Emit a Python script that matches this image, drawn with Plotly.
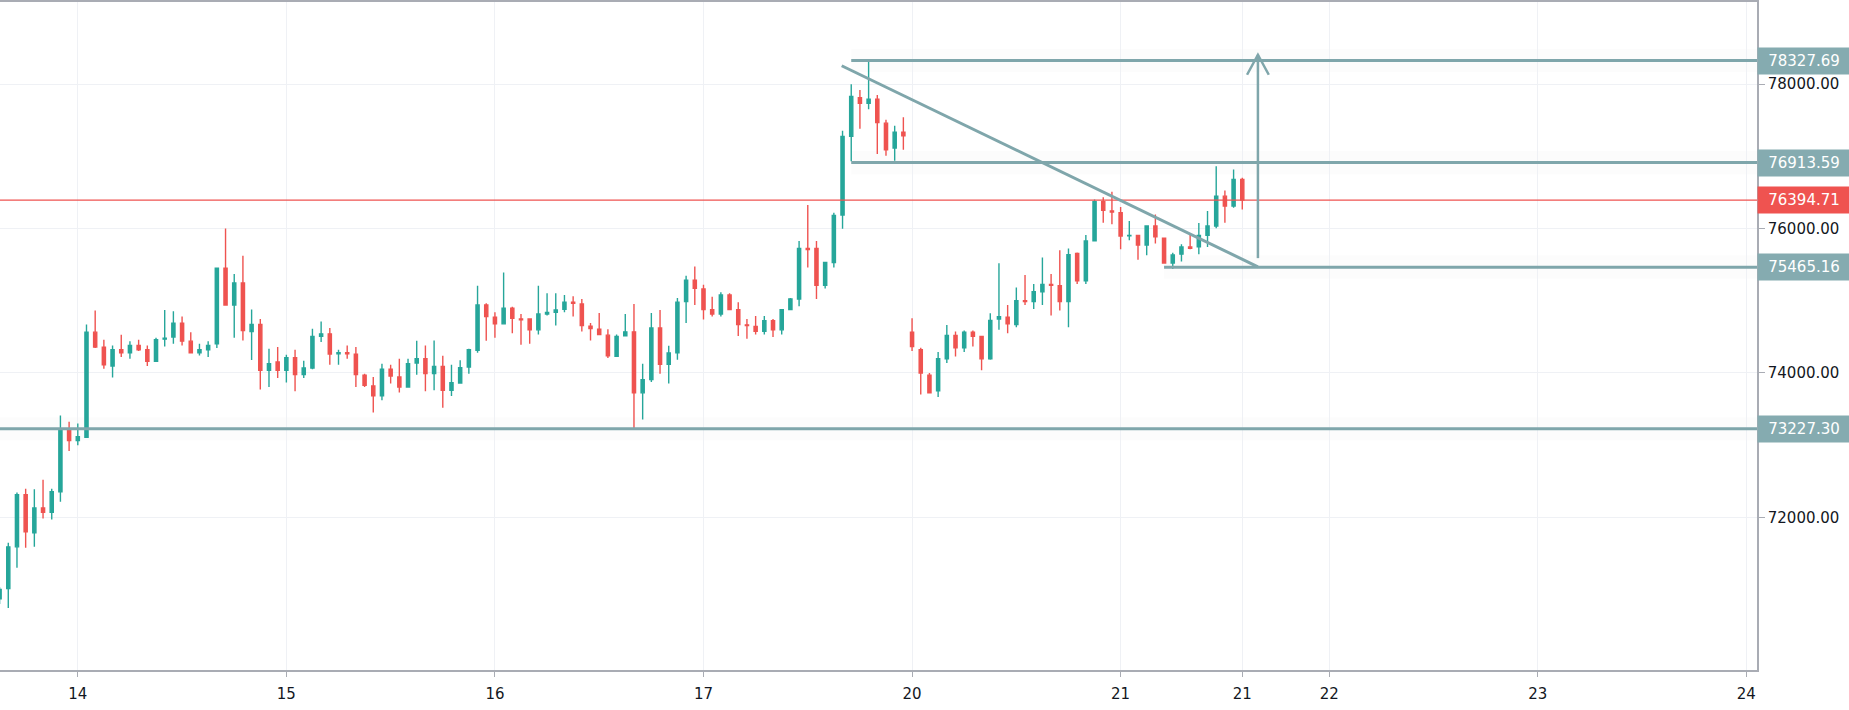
import plotly.graph_objects as go

# ---------------- data (hourly bars; bar 0 = day "14" 00:00) ----------------
bars = list(range(-9, 135))

opens = [70870, 71012, 71591, 72312, 71784, 72129, 72069, 72354, 73209,
         73062, 73108, 74565, 74358, 74096, 74321, 74280, 74381, 74321, 74160,
         74468, 74496, 74689, 74440, 74280, 74321, 74404, 75452, 74941, 75245,
         74574, 74670, 74036, 74151, 74036, 74211, 73976, 74068, 74509, 74541,
         74266, 74280, 74261, 73967, 73820, 73682, 74050, 73944, 73806, 74137,
         74197, 73990, 74091, 73760, 73861, 74082, 74312, 74941, 74771, 74680,
         74895, 74748, 74748, 74597, 74817, 74840, 74882, 74978, 74955, 74648,
         74606, 74523, 74229, 74514, 74569, 73724, 73907, 74624, 74119, 74280,
         74988, 75286, 75162, 74877, 74817, 75079, 74877, 74666, 74643, 74578,
         74725, 74597, 74877, 75024, 75723, 75723, 75213, 75530, 76187, 77276,
         77814, 77736, 77791, 77460, 77115, 77336, 74564, 74321, 73967, 73751,
         74197, 74518, 74348, 74564, 74505, 74197, 74748, 74772, 74670, 75001,
         74987, 75125, 75227, 75208, 74987, 75654, 75277, 75829, 76371, 76242,
         76219, 75900, 75906, 75773, 76035, 75865, 75521, 75645, 75746, 75746,
         75906, 76035, 76449, 76311, 76679]

highs = [71030, 71646, 72345, 72395, 72390, 72519, 72395, 73411, 73324,
         73301, 74670, 74863, 74459, 74381, 74528, 74440, 74459, 74381, 74487,
         74872, 74854, 74781, 74565, 74404, 74440, 75461, 75999, 75369, 75622,
         74877, 74748, 74335, 74358, 74252, 74321, 74169, 74611, 74712, 74624,
         74321, 74381, 74358, 73990, 73944, 74128, 74114, 74197, 74197, 74445,
         74381, 74450, 74238, 74114, 74174, 74335, 75208, 74964, 74840, 75392,
         74918, 74817, 74748, 75208, 75102, 75102, 75079, 75061, 75024, 74693,
         74831, 74606, 74533, 74817, 74955, 74128, 74831, 74873, 74376, 75038,
         75346, 75475, 75222, 75056, 75116, 75102, 74978, 74748, 74790, 74790,
         74748, 74877, 75038, 75829, 76325, 75829, 75539, 76219, 77354, 77998,
         77920, 78320, 77851, 77506, 77423, 77543, 74757, 74348, 74000, 74289,
         74665, 74574, 74588, 74588, 74505, 74826, 75520, 74941, 75185, 75355,
         75231, 75599, 75369, 75700, 75723, 75668, 75911, 76403, 76435, 76509,
         76297, 76104, 75906, 76035, 76196, 75865, 75663, 75782, 75920, 76077,
         76242, 76863, 76527, 76817, 76702]

lows = [70800, 70745, 71301, 71577, 71591, 71982, 71968, 72216, 72919,
        72997, 73100, 74344, 74059, 73935, 74220, 74197, 74302, 74096, 74151,
        74367, 74404, 74381, 74280, 74243, 74220, 74344, 74941, 74486, 74450,
        74179, 73770, 73806, 73930, 73866, 73747, 73930, 74050, 74427, 74114,
        74114, 74197, 73806, 73806, 73452, 73622, 73852, 73728, 73806, 73976,
        73747, 73760, 73517, 73682, 73852, 73990, 74280, 74445, 74487, 74680,
        74551, 74390, 74404, 74533, 74794, 74657, 74840, 74781, 74574, 74450,
        74533, 74206, 74220, 74514, 73232, 73356, 73875, 73990, 73852, 74183,
        74693, 74942, 74739, 74781, 74781, 74877, 74510, 74473, 74532, 74532,
        74496, 74532, 74877, 74923, 75461, 75024, 75171, 75461, 75998, 76931,
        77382, 77653, 77032, 77009, 76940, 77092, 74302, 73700, 73723, 73668,
        74137, 74229, 74289, 74367, 74036, 74183, 74597, 74551, 74634, 74941,
        74886, 74941, 74794, 74863, 74634, 75231, 75231, 75829, 76081, 76058,
        75714, 75838, 75566, 75631, 75792, 75521, 75440, 75543, 75714, 75645,
        75746, 76003, 76081, 76288, 76265]

closes = [71000, 71591, 72312, 71798, 72129, 72069, 72354, 73209, 73062,
          73117, 74565, 74358, 74114, 74321, 74280, 74381, 74321, 74160, 74459,
          74482, 74689, 74440, 74280, 74321, 74381, 75452, 74941, 75245, 74588,
          74670, 74036, 74128, 74036, 74211, 73976, 74068, 74505, 74541, 74261,
          74280, 74266, 73976, 73829, 73682, 74050, 73958, 73806, 74128, 74197,
          73990, 74091, 73760, 73866, 74073, 74321, 74941, 74781, 74680, 74895,
          74758, 74735, 74597, 74817, 74836, 74873, 74978, 74964, 74657, 74615,
          74533, 74238, 74505, 74569, 73724, 73907, 74624, 74119, 74275, 74978,
          75286, 75171, 74877, 74817, 75079, 74877, 74670, 74657, 74578, 74725,
          74597, 74877, 75024, 75723, 75709, 75213, 75530, 76182, 77276, 77828,
          77736, 77791, 77469, 77092, 77336, 77285, 74367, 74000, 73723, 74197,
          74518, 74348, 74564, 74509, 74197, 74726, 74780, 74680, 75001, 74987,
          75125, 75227, 75213, 74987, 75636, 75277, 75829, 76371, 76251, 76228,
          75897, 75906, 75773, 76035, 75884, 75521, 75635, 75746, 75727, 75906,
          76035, 76449, 76311, 76679, 76394.71]

tick_bars = [0, 24, 48, 72, 96, 120, 134, 144, 168, 192]
tick_text = ["14", "15", "16", "17", "20", "21", "21", "22", "23", "24"]
price_ticks = [72000, 74000, 76000, 78000]

# drawings: horizontal levels (price, first bar; None = full width)
level_prices = [78327.69, 76913.59, 75465.16, 73227.30]
level_start = [89, 89, 125, None]
last_price = 76394.71
trend_bars = [87.9, 135.8]
trend_prices = [78255, 75470]
arrow_bar = 135.8
arrow_prices = [75590, 78407]
arrow_head_base = 78130

# ---------------- styles ----------------
UP = "#26a69a"
DOWN = "#ef5350"
TEAL = "#7fa6ab"
LABEL_TEAL = "#85abb0"
GRID = "#eff1f5"
AXIS = "#a9acb4"
FONT = "DejaVu Sans"

X_RANGE = [-8.953, 193.23]
Y_RANGE = [69885, 79138]

fig = go.Figure()
fig.add_trace(go.Candlestick(
    x=bars, open=opens, high=highs, low=lows, close=closes,
    increasing=dict(line=dict(color=UP, width=1.4), fillcolor=UP),
    decreasing=dict(line=dict(color=DOWN, width=1.4), fillcolor=DOWN),
    whiskerwidth=0, hoverinfo="skip", showlegend=False,
))

shapes = []
# faint highlight bands around horizontal levels
for p, s in zip(level_prices, level_start):
    if s is None:
        shapes.append(dict(type="rect", xref="paper", x0=0, x1=1, yref="y",
                           y0=p - 160, y1=p + 160, fillcolor="rgba(120,123,134,0.025)",
                           line=dict(width=0), layer="below"))
    else:
        shapes.append(dict(type="rect", xref="x", x0=s, x1=X_RANGE[1] + 5, yref="y",
                           y0=p - 160, y1=p + 160, fillcolor="rgba(120,123,134,0.025)",
                           line=dict(width=0), layer="below"))
# last price line
shapes.append(dict(type="line", xref="paper", x0=0, x1=1, yref="y",
                   y0=last_price, y1=last_price, line=dict(color=DOWN, width=1.3),
                   layer="above"))
# level lines
for p, s in zip(level_prices, level_start):
    if s is None:
        shapes.append(dict(type="line", xref="paper", x0=0, x1=1, yref="y",
                           y0=p, y1=p, line=dict(color=TEAL, width=3), layer="above"))
    else:
        shapes.append(dict(type="line", xref="x", x0=s, x1=X_RANGE[1] + 5, yref="y",
                           y0=p, y1=p, line=dict(color=TEAL, width=3), layer="above"))
# trend line
shapes.append(dict(type="line", xref="x", yref="y", x0=trend_bars[0], y0=trend_prices[0],
                   x1=trend_bars[1], y1=trend_prices[1],
                   line=dict(color=TEAL, width=3), layer="above"))
# arrow
shapes.append(dict(type="line", xref="x", yref="y", x0=arrow_bar, x1=arrow_bar,
                   y0=arrow_prices[0], y1=arrow_prices[1],
                   line=dict(color=TEAL, width=2.5), layer="above"))
shapes.append(dict(type="path", xref="x", yref="y",
                   path=f"M {arrow_bar - 1.25} {arrow_head_base} L {arrow_bar} {arrow_prices[1]} L {arrow_bar + 1.25} {arrow_head_base}",
                   line=dict(color=TEAL, width=2.5), layer="above"))

annotations = []
for p in level_prices:
    annotations.append(dict(xref="paper", x=1, xanchor="left", yref="y", y=p,
                            yanchor="middle", text=f"{p:.2f}", showarrow=False,
                            bgcolor=LABEL_TEAL, width=92, height=26, borderpad=0,
                            align="center", font=dict(family=FONT, size=15, color="white")))
annotations.append(dict(xref="paper", x=1, xanchor="left", yref="y", y=last_price,
                        yanchor="middle", text=f"{last_price:.2f}", showarrow=False,
                        bgcolor=DOWN, width=92, height=26, borderpad=0,
                        align="center", font=dict(family=FONT, size=15, color="white")))

fig.update_layout(
    width=1849, height=710,
    margin=dict(l=0, r=92, t=0, b=40),
    plot_bgcolor="white", paper_bgcolor="white",
    font=dict(family=FONT, size=15, color="#131722"),
    boxgap=0.48,
    showlegend=False,
    shapes=shapes,
    annotations=annotations,
    xaxis=dict(
        range=X_RANGE, tickmode="array", tickvals=tick_bars, ticktext=tick_text,
        showgrid=True, gridcolor=GRID, gridwidth=1, zeroline=False,
        showline=True, linecolor=AXIS, linewidth=1.5, mirror=True,
        ticks="outside", ticklen=5, tickcolor=AXIS, ticklabelstandoff=4,
        rangeslider=dict(visible=False), fixedrange=True,
        tickfont=dict(family=FONT, size=15, color="#131722"),
    ),
    yaxis=dict(
        range=Y_RANGE, side="right", tickmode="array", tickvals=price_ticks,
        ticktext=[f"{v:.2f}" for v in price_ticks],
        showgrid=True, gridcolor=GRID, gridwidth=1, zeroline=False,
        showline=True, linecolor=AXIS, linewidth=1.5,
        ticks="outside", ticklen=6, tickcolor=AXIS, fixedrange=True,
        tickfont=dict(family=FONT, size=15, color="#131722"),
    ),
)

fig.write_html("out.html", config={"displayModeBar": False},
               post_script="document.body.style.margin='0';document.body.style.overflow='hidden';")
